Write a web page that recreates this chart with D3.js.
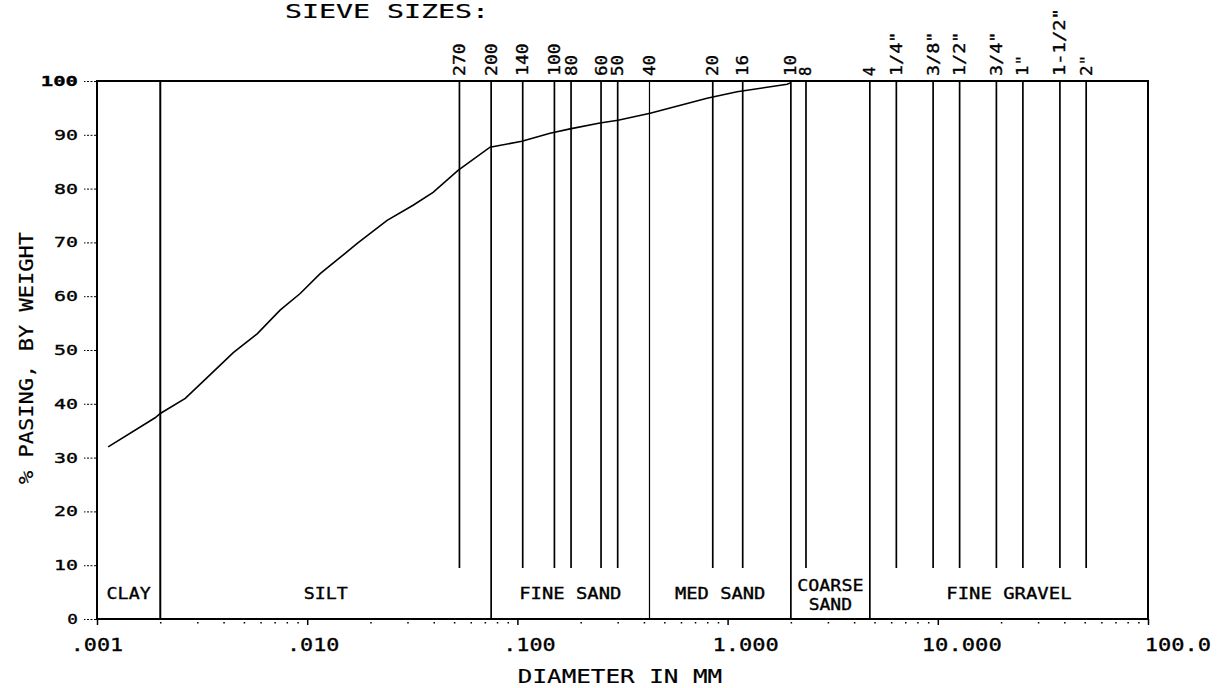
<!DOCTYPE html>
<html><head><meta charset="utf-8">
<script src="https://cdn.jsdelivr.net/npm/d3@7"></script>
<style>
body{margin:0;background:#fff;}
text{font-family:"DejaVu Sans Mono","Liberation Mono",monospace;fill:#000;stroke:#000;stroke-width:0.35px;}
</style></head>
<body><svg id="c" width="1217" height="688"></svg>
<script>
// ---- data ----
const diameters = [0.00113,0.00189,0.002,0.00263,0.00335,0.00445,0.00578,0.00743,0.00926,0.01153,0.01435,0.0173,0.0240,0.0319,0.0397,0.0522,0.0741,0.105,0.143,0.178,0.247,0.301,0.428,0.798,1.11,1.92,2.0];
const percentPassing = [32.0,37.4,38.2,41.0,44.9,49.5,53.0,57.4,60.5,64.2,67.2,69.8,74.1,76.9,79.3,83.4,87.7,88.8,90.3,91.1,92.2,92.7,94.0,96.8,98.0,99.4,99.7];
const sieveLabels = ["270","200","140","100","80","60","50","40","20","16","10","8","4","1/4\"","3/8\"","1/2\"","3/4\"","1\"","1-1/2\"","2\""];
const sieveSizes = [0.053,0.075,0.106,0.150,0.180,0.250,0.300,0.425,0.850,1.18,2.00,2.36,4.75,6.35,9.5,12.7,19.0,25.4,38.1,50.8];
const zoneNames = ["CLAY","SILT","FINE SAND","MED SAND","COARSE|SAND","FINE GRAVEL"];
const zoneBounds = [0.001,0.002,0.075,0.425,2.0,4.75,100];
const xTickValues = [0.001,0.01,0.1,1,10,100];
const xTickLabels = [".001",".010",".100","1.000","10.000","100.0"];
const yTickValues = [0,10,20,30,40,50,60,70,80,90,100];

// ---- scales ----
const x = d3.scaleLog().domain([0.001,100]).range([97,1148]);
const y = d3.scaleLinear().domain([0,100]).range([619,81]);
const svg = d3.select("#c");

function txt(str, px, py, size, adv, anchor, rot, weight){
  const t = svg.append("text").text(str)
    .attr("font-size", size).attr("text-anchor", anchor||"start")
    .attr("textLength", Math.max(1, str.length*adv - adv*0.2))
    .attr("lengthAdjust","spacingAndGlyphs");
  if (weight) t.attr("font-weight", weight);
  if (rot) t.attr("transform", `translate(${px},${py}) rotate(-90)`);
  else t.attr("x", px).attr("y", py);
  return t;
}

// ---- vertical lines ----
const inner = zoneBounds.slice(1,-1);
sieveSizes.forEach(s=>{
  const full = inner.some(b=>Math.abs(b-s)<1e-9);
  svg.append("line").attr("x1",x(s)).attr("x2",x(s))
    .attr("y1",y(100)).attr("y2", full ? y(0) : y(9.5))
    .attr("stroke","#000").attr("stroke-width", s===0.425?1.2:1.7);
});
svg.append("line").attr("x1",x(0.002)).attr("x2",x(0.002)).attr("y1",y(100)).attr("y2",y(0)).attr("stroke","#000").attr("stroke-width",2);

// frame
svg.append("rect").attr("x",x(0.001)).attr("y",y(100)).attr("width",x(100)-x(0.001)).attr("height",y(0)-y(100))
  .attr("fill","none").attr("stroke","#000").attr("stroke-width",2);

// ---- y axis ----
const yAxis = d3.axisLeft(y).tickValues(yTickValues).tickSize(12).tickFormat("");
const gy = svg.append("g").attr("transform",`translate(${x(0.001)-1},0)`).call(yAxis);
gy.select(".domain").remove();
gy.selectAll(".tick line").attr("stroke","#000").attr("stroke-width",1).attr("stroke-dasharray","2,1.5");
yTickValues.forEach(v=>{
  txt(String(v), 78, y(v)+5, 14, 13.3, "end", false, v===100?"bold":null);
});

// ---- x axis ----
const minor = [];
for (let e=-3;e<2;e++) for (let m=2;m<10;m++) minor.push(m*Math.pow(10,e));
const gxm = svg.append("g").attr("transform",`translate(0,${y(0)+3})`)
  .call(d3.axisBottom(x).tickValues(minor).tickSize(1.5).tickFormat(""));
gxm.select(".domain").remove();
gxm.selectAll(".tick line").attr("stroke","#000").attr("stroke-width",1.5);
const gx = svg.append("g").attr("transform",`translate(0,${y(0)})`)
  .call(d3.axisBottom(x).tickValues(xTickValues).tickSize(6).tickFormat(""));
gx.select(".domain").remove();
gx.selectAll(".tick line").attr("stroke","#000").attr("stroke-width",1.5);
xTickValues.forEach((v,i)=>{
  txt(xTickLabels[i], x(v)+6*i, 651, 18, 13.8, "middle");
});

// ---- sieve labels ----
sieveSizes.forEach((s,i)=>{
  txt(sieveLabels[i], x(s)+5.5, 76, 15, 11.7, "start", true);
});

// ---- zone labels ----
zoneNames.forEach((n,i)=>{
  const cx = (x(zoneBounds[i])+x(zoneBounds[i+1]))/2;
  const parts = n.split("|");
  if (parts.length===1) txt(n, cx, 599, 16, 11.6, "middle");
  else { txt(parts[0], cx, 591, 16, 11.4, "middle"); txt(parts[1], cx, 610, 16, 11.4, "middle"); }
});

// ---- curve ----
const pts = diameters.map((d,i)=>[x(d), y(percentPassing[i])]);
svg.append("path").attr("d", d3.line()(pts)).attr("fill","none").attr("stroke","#000").attr("stroke-width",1.6);

// ---- titles ----
txt("SIEVE SIZES:", 285, 18, 19, 17.3, "start").style("stroke-width","0.2px");
txt("DIAMETER IN MM", 620, 683, 19, 14.8, "middle").style("stroke-width","0.2px");
txt("% PASING, BY WEIGHT", 33, 358, 19, 13.4, "middle", true).style("stroke-width","0.2px");
</script></body></html>
